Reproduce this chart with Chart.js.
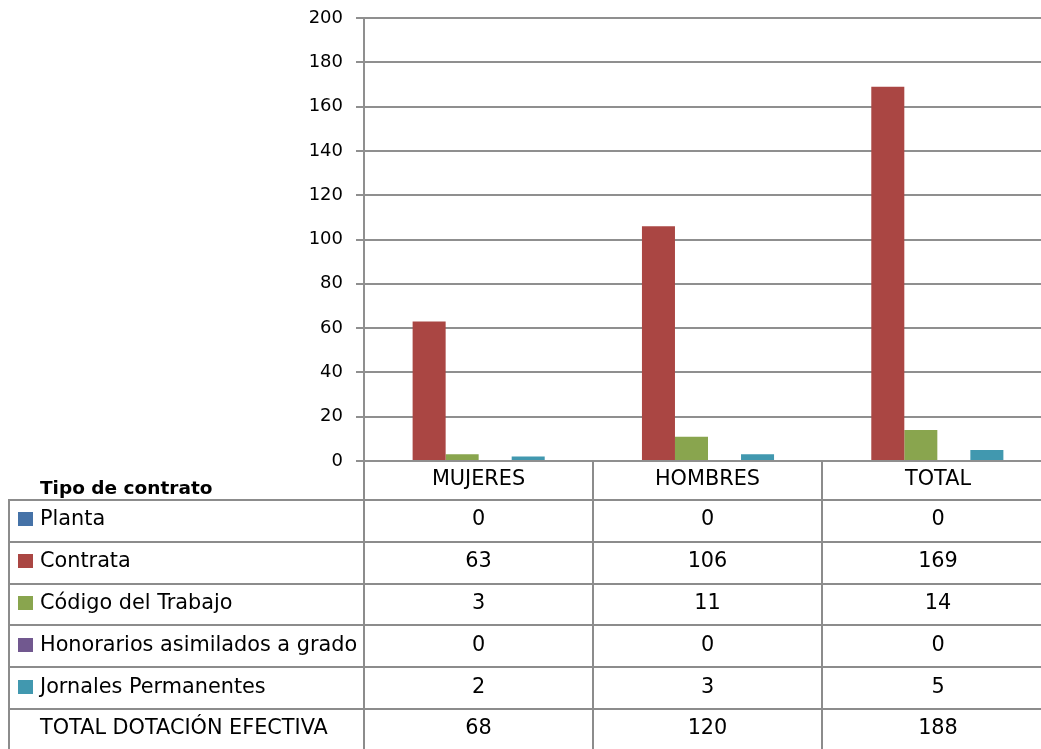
<!DOCTYPE html>
<html>
<head>
<meta charset="utf-8">
<script src="https://cdn.jsdelivr.net/npm/chart.js@4.4.1/dist/chart.umd.min.js"></script>
<style>
  body { margin: 0; background: #fff; overflow: hidden; width: 1041px; height: 749px; position: relative; }
  #chartBox { position: absolute; left: 0; top: 0; }
  #dataTable {
    position: absolute; left: 8px; top: 461px; width: 1045px;
    border-collapse: collapse; table-layout: fixed;
    font-family: "DejaVu Sans", sans-serif; font-size: 20.8px; color: #000;
  }
  #dataTable td { border: 2px solid #8c8c8c; height: 34.8px; padding: 0 0 5px 0; text-align: center; white-space: nowrap; }
  #dataTable td.lbl { text-align: left; padding-left: 8px; }
  #dataTable tr.head td { height: 34px; padding-bottom: 4px; border-top: none; }
  #dataTable tr.head td.corner { border-left: none; border-top: none; font-weight: bold; font-size: 18.5px; padding-left: 31px; text-align: left; vertical-align: bottom; padding-bottom: 1px; height: 37px; }
  .sw { display: inline-block; width: 15px; height: 14px; margin-right: 7px; vertical-align: -1px; }
  .nosw { display: inline-block; width: 22px; }
</style>
</head>
<body>
<div id="chartBox"><canvas id="contratoChart" width="1060" height="480"></canvas></div>
<table id="dataTable"></table>
<script>
const categories = ['MUJERES', 'HOMBRES', 'TOTAL']
const seriesNames = ['Planta', 'Contrata', 'Código del Trabajo', 'Honorarios asimilados a grado', 'Jornales Permanentes', 'TOTAL DOTACIÓN EFECTIVA']
const planta = [0, 0, 0]
const contrata = [63, 106, 169]
const codigoTrabajo = [3, 11, 14]
const honorarios = [0, 0, 0]
const jornales = [2, 3, 5]
const totalDotacion = [68, 120, 188]
const yTicks = { min: 0, max: 200, step: 20 }

// the last series has no fill in the original, it only shows in the table
const colors = ['#4572A7', '#AA4643', '#89A54E', '#71588F', '#4198AF', 'rgba(0,0,0,0)']
const allSeries = [planta, contrata, codigoTrabajo, honorarios, jornales, totalDotacion]

const gridGray = '#8f8f8f'

const data = {
    labels: categories,
    datasets: allSeries.map((vals, i) => ({
        label: seriesNames[i],
        data: vals,
        backgroundColor: colors[i],
        borderWidth: 0,
        categoryPercentage: 0.864,
        barPercentage: 1.0
    }))
}

const config = {
    type: 'bar',
    data: data,
    options: {
        responsive: false,
        animation: false,
        layout: { padding: { top: 18, bottom: 19, right: 8, left: 0 } },
        plugins: { legend: { display: false }, tooltip: { enabled: false } },
        scales: {
            x: { display: false },
            y: {
                min: yTicks.min,
                max: yTicks.max,
                ticks: {
                    stepSize: yTicks.step,
                    padding: 13,
                    color: '#000',
                    font: { family: 'DejaVu Sans', size: 18 }
                },
                grid: { color: gridGray, lineWidth: 2, tickLength: 8 },
                border: { display: true, color: gridGray, width: 2 },
                afterFit: (scale) => {
                    scale.width = 364
                    scale.paddingTop = 0
                    scale.paddingBottom = 0
                }
            }
        }
    }
}

new Chart(document.getElementById('contratoChart'), config)

// data table under the plot
const table = document.getElementById('dataTable')
const colgroup = document.createElement('colgroup')
;[355, 229, 229, 232].forEach(w => {
    const c = document.createElement('col')
    c.style.width = w + 'px'
    colgroup.appendChild(c)
})
table.appendChild(colgroup)

let head = document.createElement('tr')
head.className = 'head'
let corner = document.createElement('td')
corner.className = 'corner'
corner.textContent = 'Tipo de contrato'
head.appendChild(corner)
categories.forEach(cat => {
    const td = document.createElement('td')
    td.textContent = cat
    head.appendChild(td)
})
table.appendChild(head)

allSeries.forEach((vals, i) => {
    const tr = document.createElement('tr')
    const lbl = document.createElement('td')
    lbl.className = 'lbl'
    const sw = document.createElement('span')
    if (i < allSeries.length - 1) {
        sw.className = 'sw'
        sw.style.background = colors[i]
    } else {
        sw.className = 'nosw'
    }
    lbl.appendChild(sw)
    lbl.appendChild(document.createTextNode(seriesNames[i]))
    tr.appendChild(lbl)
    vals.forEach(v => {
        const td = document.createElement('td')
        td.textContent = v
        tr.appendChild(td)
    })
    table.appendChild(tr)
})
</script>
</body>
</html>
